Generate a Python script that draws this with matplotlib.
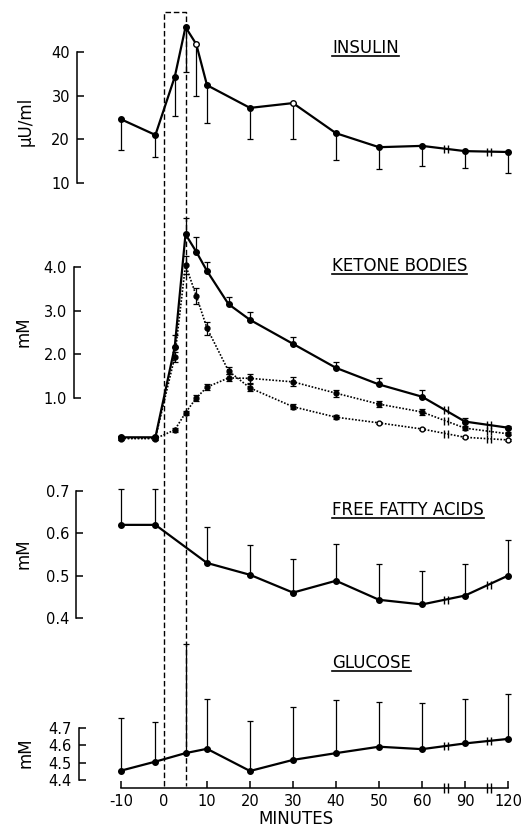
import matplotlib.pyplot as plt
import numpy as np

# ---- data ----
insulin_t = [-10, -2, 2.5, 5, 7.5, 10, 20, 30, 40, 50, 60, 90, 120]
insulin = [24.6, 21.0, 34.3, 45.7, 41.8, 32.4, 27.2, 28.3, 21.4, 18.2, 18.5, 17.3, 17.1]
insulin_err = [7.1, 5.0, 9.0, 10.3, 11.9, 8.7, 7.1, 8.2, 6.1, 5.0, 4.6, 3.9, 4.8]
insulin_open = [7.5, 30]

ketone_t = [-10, -2, 2.5, 5, 7.5, 10, 15, 20, 30, 40, 50, 60, 90, 120]
ketone_total = [0.10, 0.10, 2.17, 4.75, 4.35, 3.91, 3.15, 2.79, 2.24, 1.69, 1.31, 1.03, 0.46, 0.32]
ketone_total_err = [0.03, 0.03, 0.27, 0.37, 0.34, 0.20, 0.16, 0.18, 0.16, 0.13, 0.14, 0.15, 0.08, 0.05]
ketone_fall = [0.08, 0.08, 1.94, 4.05, 3.34, 2.60, 1.62, 1.23, 0.80, 0.56, 0.43, 0.29, 0.10, 0.04]
ketone_fall_err = [0.04, 0.04, 0.12, 0.20, 0.18, 0.15, 0.08, 0.08, 0.06, 0.04, 0.03, 0.03, 0.02, 0.02]
ketone_fall_open = [50, 60, 90, 120]
ketone_rise = [0.07, 0.07, 0.27, 0.66, 1.00, 1.25, 1.46, 1.45, 1.37, 1.11, 0.86, 0.68, 0.31, 0.18]
ketone_rise_err = [0.03, 0.03, 0.04, 0.05, 0.06, 0.06, 0.08, 0.10, 0.10, 0.08, 0.06, 0.06, 0.04, 0.03]

ffa_t = [-10, -2, 10, 20, 30, 40, 50, 60, 90, 120]
ffa = [0.62, 0.62, 0.53, 0.502, 0.46, 0.488, 0.443, 0.432, 0.453, 0.50]
ffa_err = [0.085, 0.085, 0.085, 0.07, 0.08, 0.087, 0.085, 0.078, 0.075, 0.085]

glucose_t = [-10, -2, 5, 10, 20, 30, 40, 50, 60, 90, 120]
glucose = [4.454, 4.506, 4.555, 4.58, 4.452, 4.516, 4.555, 4.592, 4.578, 4.611, 4.637]
glucose_err = [0.306, 0.227, 0.63, 0.29, 0.291, 0.307, 0.305, 0.256, 0.268, 0.258, 0.259]

minute_ticks = [-10, 0, 10, 20, 30, 40, 50, 60, 90, 120]
minute_labels = ['-10', '0', '10', '20', '30', '40', '50', '60', '90', '120']
infusion = [0, 5]

# ---- layout ----
W, H = 529, 831
X0_PX, PX_PER_MIN = 164, 4.3
L_PX, R_PX = 60, 525
BREAKS = [65.5, 75.5]

plt.rcParams['font.family'] = 'DejaVu Sans'
fig = plt.figure(figsize=(W / 100, H / 100), dpi=100)


def to_pos(t):
    # 0-60 min linear, then compressed (60-120 shown in 20 units)
    t = np.asarray(t, float)
    return np.where(t <= 60, t, 60 + (t - 60) / 3.0)


def add_panel(top_px, bot_px, v_a, p_a, v_b, p_b, spine_px, yticks):
    scale = (v_b - v_a) / (p_b - p_a)
    ax = fig.add_axes([L_PX / W, 1 - bot_px / H, (R_PX - L_PX) / W, (bot_px - top_px) / H])
    ax.set_xlim((L_PX - X0_PX) / PX_PER_MIN, (R_PX - X0_PX) / PX_PER_MIN)
    ax.set_ylim(v_a + (bot_px - p_a) * scale, v_a + (top_px - p_a) * scale)
    ax.patch.set_visible(False)
    for s in ['top', 'right', 'bottom']:
        ax.spines[s].set_visible(False)
    ax.spines['left'].set_position(('data', (spine_px - X0_PX) / PX_PER_MIN))
    ax.spines['left'].set_linewidth(1.1)
    ax.spines['left'].set_bounds(min(yticks), max(yticks))
    ax.set_yticks(yticks)
    ax.yaxis.set_major_formatter(plt.FormatStrFormatter('%.1f' if max(yticks) < 10 else '%d'))
    ax.tick_params(axis='y', direction='in', length=5, width=1.1, pad=5, labelsize=10.5)
    ax.set_xticks([])
    return ax


def add_breaks(ax, t, y):
    x = to_pos(t)
    for b in BREAKS:
        yb = np.interp(b, x, y)
        ax.plot([b - 0.45, b + 0.45], [yb, yb], ls='none', marker='|', ms=6, mew=1.0, color='k', zorder=5)


def draw_series(ax, t, y, err_lo, err_hi, ls='-', lw=1.6, ms=4, open_t=()):
    x = to_pos(t)
    ax.errorbar(x, y, yerr=[err_lo, err_hi], fmt='none', ecolor='k', elinewidth=0.9,
                capsize=2.5, capthick=0.9, zorder=2)
    ax.plot(x, y, color='k', ls=ls, lw=lw, zorder=3)
    is_open = np.isin(t, open_t)
    ax.plot(x[~is_open], np.asarray(y)[~is_open], ls='none', marker='o', ms=ms, color='k', zorder=4)
    ax.plot(x[is_open], np.asarray(y)[is_open], ls='none', marker='o', ms=ms,
            mfc='white', mec='k', mew=1.0, zorder=4)
    add_breaks(ax, t, y)


# Insulin
ax1 = add_panel(10, 200, 40, 52, 10, 183, 77, [10, 20, 30, 40])
draw_series(ax1, insulin_t, insulin, insulin_err, np.zeros(len(insulin)), open_t=insulin_open)

# Ketone bodies
dot = (0, (1, 1))
ax2 = add_panel(205, 450, 4.0, 267, 1.0, 398, 74, [1.0, 2.0, 3.0, 4.0])
draw_series(ax2, ketone_t, ketone_rise, ketone_rise_err, ketone_rise_err, ls=dot, lw=1.2, ms=3.5)
draw_series(ax2, ketone_t, ketone_fall, ketone_fall_err, ketone_fall_err, ls=dot, lw=1.2, ms=3.5,
            open_t=ketone_fall_open)
draw_series(ax2, ketone_t, ketone_total, np.zeros(len(ketone_total)), ketone_total_err)

# Free fatty acids
ax3 = add_panel(480, 625, 0.7, 491, 0.4, 618, 76, [0.4, 0.5, 0.6, 0.7])
draw_series(ax3, ffa_t, ffa, np.zeros(len(ffa)), ffa_err)

# Glucose
ax4 = add_panel(640, 788, 4.7, 728, 4.4, 780, 79, [4.4, 4.5, 4.6, 4.7])
draw_series(ax4, glucose_t, glucose, np.zeros(len(glucose)), glucose_err)
ax4.spines['bottom'].set_visible(True)
ax4.spines['bottom'].set_linewidth(1.1)
ax4.spines['bottom'].set_bounds(to_pos(-10), to_pos(120))
ax4.set_xticks(to_pos(minute_ticks))
ax4.set_xticklabels(minute_labels)
ax4.tick_params(axis='x', direction='in', length=5, width=1.1, pad=4, labelsize=10.5)
ax4.xaxis.get_major_ticks()[1].tick1line.set_visible(False)
y_axis = ax4.get_ylim()[0]
for b in BREAKS:
    ax4.plot([b - 0.45, b + 0.45], [y_axis, y_axis], ls='none', marker='|', ms=7, mew=1.0,
             color='k', clip_on=False)

# dashed box marking the infusion period
ax_over = fig.add_axes([L_PX / W, 0, (R_PX - L_PX) / W, 1])
ax_over.set_xlim((L_PX - X0_PX) / PX_PER_MIN, (R_PX - X0_PX) / PX_PER_MIN)
ax_over.set_ylim(H, 0)
ax_over.axis('off')
ax_over.plot([infusion[0], infusion[0], infusion[1], infusion[1]], [786, 12, 12, 786],
             color='k', lw=1.0, ls=(0, (4, 2)))

# axis labels
fig.text(26 / W, 1 - 121 / H, 'μU/ml', rotation=90, ha='center', va='center', fontsize=12)
fig.text(24 / W, 1 - 332 / H, 'mM', rotation=90, ha='center', va='center', fontsize=12)
fig.text(24 / W, 1 - 554 / H, 'mM', rotation=90, ha='center', va='center', fontsize=12)
fig.text(25 / W, 1 - 753 / H, 'mM', rotation=90, ha='center', va='center', fontsize=12)
fig.text(296 / W, 1 - 819 / H, 'MINUTES', ha='center', va='center', fontsize=12)

# panel titles, underlined
titles = [('INSULIN', 53), ('KETONE BODIES', 271), ('FREE FATTY ACIDS', 515), ('GLUCOSE', 668)]
texts = [fig.text(332 / W, 1 - y / H, s, ha='left', va='baseline', fontsize=12) for s, y in titles]
fig.canvas.draw()
for t in texts:
    bb = t.get_window_extent()
    yl = (bb.y0 + 1) / H
    fig.add_artist(plt.Line2D([bb.x0 / W, bb.x1 / W], [yl, yl], color='k', lw=1.2,
                              transform=fig.transFigure))

fig.savefig('out.png', dpi=100)
